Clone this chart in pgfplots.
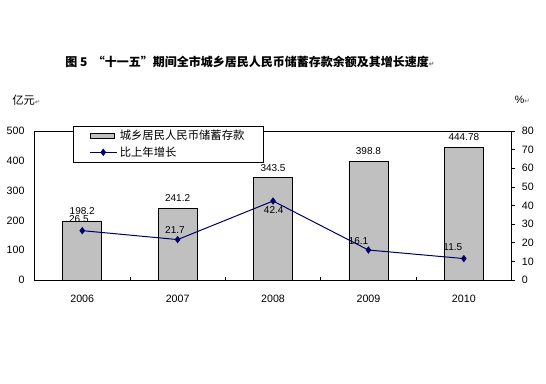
\documentclass[border=0pt]{standalone}
\usepackage{pgfplots}
\usepackage{pgfplotstable}
\pgfplotsset{compat=1.18}
\usepackage{fontspec}
\setmainfont{Liberation Sans}
\newfontfamily\cjk{Noto Sans CJK SC}
\newfontfamily\dejavu{DejaVu Sans}
\definecolor{barc}{HTML}{C0C0C0}
\definecolor{linec}{HTML}{000066}
\definecolor{markc}{HTML}{606060}

\pgfplotsset{
  mylinelegend/.style={legend image code/.code={\draw[mark repeat=2,mark phase=2,##1] plot coordinates {(0pt,0pt) (10pt,0pt) (20pt,0pt)};}},
  mybarlegend/.style={legend image code/.code={\draw[fill=barc,draw=black,line width=0.6pt] (0pt,-2pt) rectangle (18pt,2pt);}},
}

\pgfplotstableread{
x dep lab
0 198.2 198.2
1 241.2 241.2
2 343.5 343.5
3 398.8 398.8
4 444.78 444.78
}\bars

\pgfplotstableread{
x g lab dx dy
0 26.5 26.5 -2.5 8.8
1 21.7 21.7 -2 7.5
2 42.4 42.4 0.5 -7
3 16.1 16.1 -7.5 7
4 11.5 11.5 -8.25 8.7
}\growth

\begin{document}
\begin{tikzpicture}[x=1pt,y=1pt]
\path[use as bounding box] (0,0) rectangle (409.5,288);
\node[font=\cjk\bfseries\fontsize{9}{11}\selectfont] at (187.5,241.5) {图 5\ \ “十一五”期间全市城乡居民人民币储蓄存款余额及其增长速度{\dejavu\fontsize{5}{6}\selectfont\color{markc}↵}};
\node[anchor=west,inner sep=0pt,font=\cjk\fontsize{8.5}{10}\selectfont] at (9,213) {亿元{\dejavu\fontsize{5}{6}\selectfont\color{markc}↵}};
\node[anchor=west,inner sep=0pt,font=\fontsize{8}{10}\selectfont] at (386,213) {\%{\dejavu\fontsize{5}{6}\selectfont\color{markc}↵}};

\begin{axis}[
  at={(25.9pt,78pt)}, anchor=south west,
  scale only axis, width=357.75pt, height=111.75pt,
  xmin=-0.5, xmax=4.5, ymin=0, ymax=500,
  ytick={0,100,...,500}, ytick pos=left,
  xtick={0,1,2,3,4}, xticklabels={2006,2007,2008,2009,2010},
  minor xtick={0.5,1.5,2.5,3.5}, xtick pos=bottom,
  major tick length=0pt, minor tick length=2.25pt, tick align=inside,
  tick label style={font=\fontsize{8}{9}\selectfont},
  /pgf/number format/assume math mode=true,
  yticklabel style={xshift=-4pt},
  xticklabel style={yshift=-8pt},
  axis line style={line width=0.6pt},
  every tick/.style={black,line width=0.5pt},
]
\addplot[ybar, bar width=29.25pt, fill=barc, draw=black, line width=0.6pt,
  point meta=explicit symbolic, nodes near coords,
  nodes near coords style={anchor=center, yshift=7.5pt, font=\fontsize{7.5}{9}\selectfont}]
  table[x=x, y=dep, meta=lab]{\bars};
\end{axis}

\begin{axis}[
  at={(25.9pt,78pt)}, anchor=south west,
  scale only axis, width=357.75pt, height=111.75pt,
  xmin=-0.5, xmax=4.5, ymin=0, ymax=80,
  ytick={0,10,...,80},
  axis y line*=right, axis x line=none,
  tick align=outside, major tick length=2.25pt,
  tick label style={font=\fontsize{8}{9}\selectfont},
  /pgf/number format/assume math mode=true,
  yticklabel style={xshift=2pt},
  axis line style={line width=0.6pt},
  every tick/.style={black,line width=0.5pt},
  legend style={at={(rel axis cs:0.0807,1.034)}, anchor=north west,
    draw=black, line width=0.6pt, fill=white,
    font=\cjk\fontsize{8.5}{10}\selectfont,
    inner xsep=12pt, inner ysep=1.5pt, row sep=0.5pt,
    nodes={inner ysep=1.5pt}},
  legend cell align=left,
]
\addlegendimage{mybarlegend}
\addlegendentry{城乡居民人民币储蓄存款}
\addplot[linec, line width=0.75pt, mark=diamond*, mark size=2.2pt,
  mark options={fill=linec, draw=linec}, mylinelegend,
  point meta=explicit symbolic, nodes near coords,
  visualization depends on={\thisrow{dx}\as\dx},
  visualization depends on={\thisrow{dy}\as\dy},
  nodes near coords style={anchor=center, xshift=\dx pt, yshift=\dy pt, font=\fontsize{7.5}{9}\selectfont, black}]
  table[x=x, y=g, meta=lab]{\growth};
\addlegendentry{比上年增长}
\end{axis}
\end{tikzpicture}
\end{document}
